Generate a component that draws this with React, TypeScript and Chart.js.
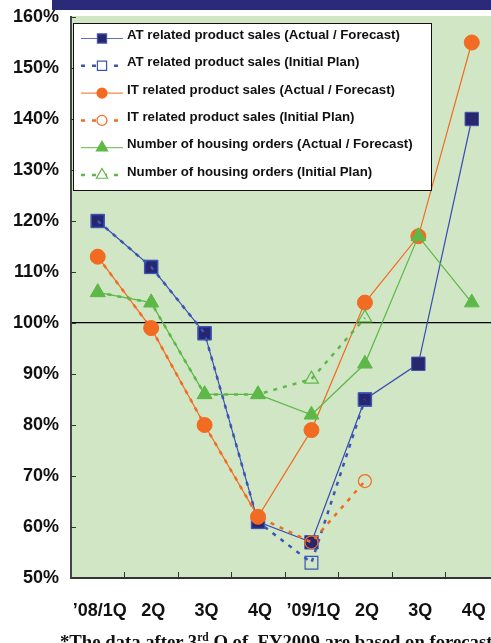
import React, { useEffect, useRef } from "react";
import { Chart, registerables } from "chart.js";

Chart.register(...registerables);

const categories = ["’08/1Q", "2Q", "3Q", "4Q", "’09/1Q", "2Q", "3Q", "4Q"];
const atActual = [120, 111, 98, 61, 57, 85, 92, 140];
const atPlan = [120, 111, 98, 61, 53, 85, null, null];
const itActual = [113, 99, 80, 62, 79, 104, 117, 155];
const itPlan = [113, 99, 80, 62, 57, 69, null, null];
const houseActual = [106, 104, 86, 86, 82, 92, 117, 104];
const housePlan = [106, 104, 86, 86, 89, 101, null, null];
const legendLabels = [
  "AT related product sales (Actual / Forecast)",
  "AT related product sales (Initial Plan)",
  "IT related product sales (Actual / Forecast)",
  "IT related product sales (Initial Plan)",
  "Number of housing orders (Actual / Forecast)",
  "Number of housing orders (Initial Plan)",
];
const yMin = 50;
const yMax = 160;
const yStep = 10;

const NAVY = "#27266F";
const BLUE = "#3A4DB2";
const ORANGE = "#F26B22";
const GREEN = "#5DB848";
const BG = "#D0E6C4";

function drawMarker(ctx, style, x, y, r, fill, stroke, lw) {
  ctx.save();
  ctx.beginPath();
  if (style === "rect") {
    const s = r / Math.SQRT2;
    ctx.rect(x - s, y - s, 2 * s, 2 * s);
  } else if (style === "circle") {
    ctx.arc(x, y, r, 0, Math.PI * 2);
  } else {
    const c = Math.cos(Math.PI / 6) * r;
    ctx.moveTo(x, y - r);
    ctx.lineTo(x + c, y + r / 2);
    ctx.lineTo(x - c, y + r / 2);
    ctx.closePath();
  }
  ctx.fillStyle = fill;
  ctx.fill();
  ctx.lineWidth = lw;
  ctx.strokeStyle = stroke;
  ctx.stroke();
  ctx.restore();
}

const decorPlugin = {
  id: "decor",
  beforeDraw(chart) {
    const { ctx, chartArea } = chart;
    ctx.save();
    ctx.fillStyle = BG;
    ctx.fillRect(chartArea.left, chartArea.top - 1, chartArea.right - chartArea.left, chartArea.bottom - chartArea.top + 1);
    ctx.restore();
  },
  afterDraw(chart) {
    const { ctx, chartArea } = chart;
    const xs = chart.scales.x;
    const ys = chart.scales.y;
    ctx.save();
    ctx.strokeStyle = "#333";
    ctx.lineWidth = 1;
    for (let i = 1; i < categories.length; i++) {
      const x = Math.round((xs.getPixelForValue(i - 1) + xs.getPixelForValue(i)) / 2) + 0.5;
      ctx.beginPath();
      ctx.moveTo(x, chartArea.bottom);
      ctx.lineTo(x, chartArea.bottom - 6);
      ctx.stroke();
    }
    for (let v = yMin; v <= yMax; v += yStep) {
      const y = Math.round(ys.getPixelForValue(v)) + 0.5;
      ctx.beginPath();
      ctx.moveTo(chartArea.left, y);
      ctx.lineTo(chartArea.left + 5, y);
      ctx.stroke();
    }
    const bx = 73, by = 23, bw = 358, bh = 167;
    ctx.fillStyle = "#FFFFFF";
    ctx.fillRect(bx, by, bw, bh);
    ctx.strokeStyle = "#111";
    ctx.lineWidth = 1;
    ctx.strokeRect(bx + 0.5, by + 0.5, bw, bh);
    const dsets = chart.data.datasets;
    for (let i = 0; i < dsets.length; i++) {
      const d = dsets[i];
      const y = 38.5 + i * 27.3;
      ctx.save();
      ctx.strokeStyle = d.borderColor;
      if (d.borderDash) {
        ctx.lineWidth = 2.5;
        ctx.setLineDash([4, 7]);
      } else {
        ctx.globalAlpha = 0.8;
        ctx.lineWidth = 1.2;
        ctx.setLineDash([]);
      }
      ctx.beginPath();
      ctx.moveTo(81, y);
      ctx.lineTo(123, y);
      ctx.stroke();
      ctx.restore();
      const hollow = d.pointBackgroundColor === "transparent";
      const r = d.pointStyle === "rect" ? 6.5 : d.pointStyle === "circle" ? 5 : 6.5;
      drawMarker(ctx, d.pointStyle, 102, y, r, hollow ? "#FFFFFF" : d.pointBackgroundColor, d.pointBorderColor, 1.2);
      ctx.fillStyle = "#111";
      ctx.font = "bold 13.25px 'Liberation Sans', Arial, sans-serif";
      ctx.textBaseline = "middle";
      ctx.textAlign = "left";
      ctx.fillText(legendLabels[i], 127, y - 3);
    }
    ctx.restore();
  },
};

export default function App() {
  const ref = useRef(null);
  useEffect(() => {
    const chart = new Chart(ref.current, {
      type: "line",
      data: {
        labels: categories,
        datasets: [
          {
            label: legendLabels[0],
            data: atActual,
            borderColor: BLUE,
            borderWidth: 1.2,
            pointStyle: "rect",
            pointRadius: 9.5,
            pointBackgroundColor: NAVY,
            pointBorderColor: "#4656AC",
            pointBorderWidth: 1,
            tension: 0,
            order: 6,
          },
          {
            label: legendLabels[1],
            data: atPlan,
            borderColor: "#3A55B8",
            borderWidth: 2.5,
            borderDash: [4, 6],
            pointStyle: "rect",
            pointRadius: 9,
            pointBackgroundColor: "transparent",
            pointBorderColor: "#3A55B8",
            pointBorderWidth: 1.2,
            tension: 0,
            order: 5,
          },
          {
            label: legendLabels[2],
            data: itActual,
            borderColor: ORANGE,
            borderWidth: 1.2,
            pointStyle: "circle",
            pointRadius: 7.5,
            pointBackgroundColor: ORANGE,
            pointBorderColor: ORANGE,
            pointBorderWidth: 1,
            tension: 0,
            order: 4,
          },
          {
            label: legendLabels[3],
            data: itPlan,
            borderColor: ORANGE,
            borderWidth: 2.5,
            borderDash: [4, 6],
            pointStyle: "circle",
            pointRadius: 6.5,
            pointBackgroundColor: "transparent",
            pointBorderColor: ORANGE,
            pointBorderWidth: 1.2,
            tension: 0,
            order: 3,
          },
          {
            label: legendLabels[4],
            data: houseActual,
            borderColor: GREEN,
            borderWidth: 1.2,
            pointStyle: "triangle",
            pointRadius: 8.5,
            pointBackgroundColor: GREEN,
            pointBorderColor: GREEN,
            pointBorderWidth: 1,
            tension: 0,
            order: 2,
          },
          {
            label: legendLabels[5],
            data: housePlan,
            borderColor: GREEN,
            borderWidth: 2.5,
            borderDash: [4, 6],
            pointStyle: "triangle",
            pointRadius: 8,
            pointBackgroundColor: "transparent",
            pointBorderColor: GREEN,
            pointBorderWidth: 1.2,
            tension: 0,
            order: 1,
          },
        ],
      },
      options: {
        responsive: false,
        animation: false,
        devicePixelRatio: 1,
        layout: { padding: { top: 17, right: 0, left: 0, bottom: 0 } },
        plugins: { legend: { display: false }, tooltip: { enabled: false } },
        scales: {
          x: {
            type: "category",
            offset: true,
            grid: {
              display: true,
              drawOnChartArea: false,
              drawTicks: true,
              tickLength: 22,
              tickColor: "rgba(0,0,0,0)",
            },
            border: { color: "#333", width: 2 },
            ticks: {
              color: "#111",
              font: { family: "'Liberation Sans', Arial, sans-serif", size: 18, weight: "bold" },
              padding: 0,
              labelOffset: 2,
              maxRotation: 0,
              autoSkip: false,
            },
            afterFit: (s) => {
              s.height = 65;
              s.paddingLeft = 0;
              s.paddingRight = 0;
            },
          },
          y: {
            min: yMin,
            max: yMax,
            ticks: {
              stepSize: yStep,
              color: "#111",
              font: { family: "'Liberation Sans', Arial, sans-serif", size: 18, weight: "bold" },
              padding: 12,
              callback: (v) => v + "%",
            },
            grid: {
              drawTicks: false,
              color: (c) => (c.tick && c.tick.value === 100 ? "#000" : "rgba(0,0,0,0)"),
              lineWidth: 1.2,
            },
            border: { color: "#444", width: 2 },
            afterFit: (s) => {
              s.width = 71;
              s.paddingTop = 0;
              s.paddingBottom = 0;
            },
          },
        },
      },
      plugins: [decorPlugin],
    });
    return () => chart.destroy();
  }, []);

  return (
    <div style={{ position: "absolute", left: 0, top: 0, width: 491, height: 643, overflow: "hidden", background: "#fff" }}>
      <canvas ref={ref} width={509} height={643} style={{ position: "absolute", left: 0, top: 0 }} />
      <div style={{ position: "absolute", left: 52, top: 0, width: 439, height: 10, background: "#2B2A78" }} />
      <div
        style={{
          position: "absolute",
          left: 60,
          top: 633,
          whiteSpace: "nowrap",
          fontFamily: "'Liberation Serif', 'Times New Roman', serif",
          fontWeight: "bold",
          fontSize: 18.7,
          lineHeight: "18px",
          color: "#111",
        }}
      >
        *The data after 3<span style={{ fontSize: 11.5, position: "relative", top: -7 }}>rd</span> Q of&nbsp; FY2009 are based on forecast.
      </div>
    </div>
  );
}
